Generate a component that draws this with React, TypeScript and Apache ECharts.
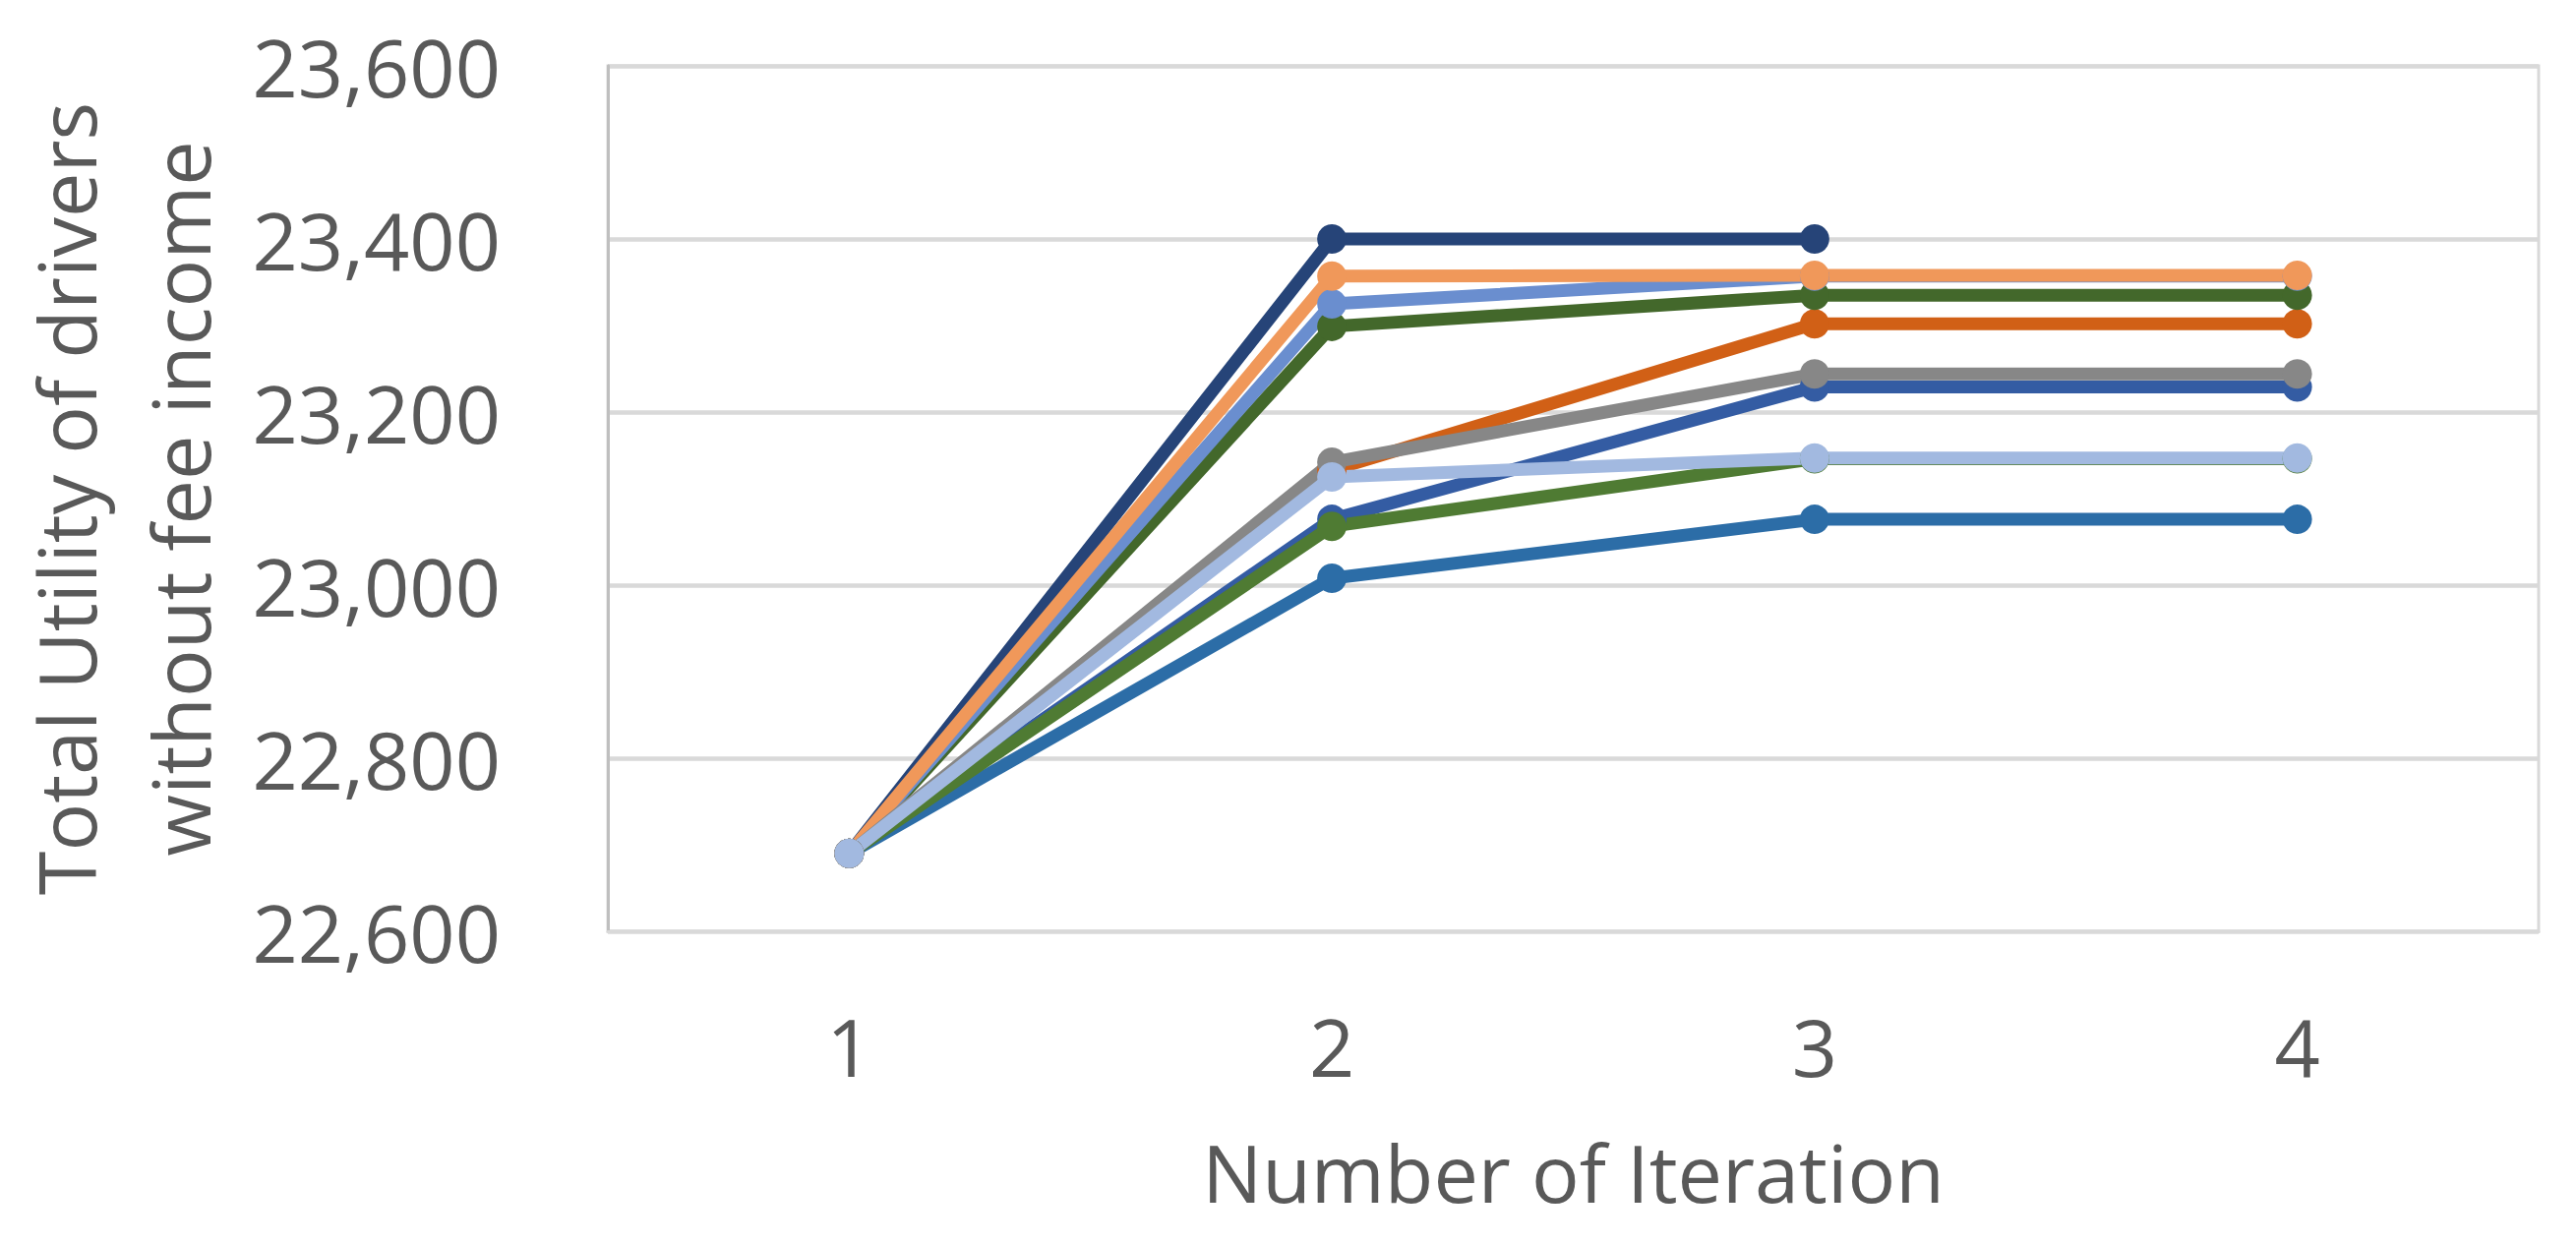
import React, { useEffect, useRef } from "react";
import * as echarts from "echarts";

const iterations = ["1", "2", "3", "4"];
const yMin = 22600;
const yMax = 23600;
const yInterval = 200;

const runNavy = [22690, 23400, 23400, null];
const runSteelBlue = [22690, 23008, 23076, 23076];
const runDarkOrange = [22690, 23133, 23302, 23302];
const runBlue = [22690, 23076, 23229, 23229];
const runGreen = [22690, 23068, 23146, 23146];
const runDarkGreen = [22690, 23299, 23335, 23335];
const runCornflower = [22690, 23325, 23357, 23357];
const runLightOrange = [22690, 23357, 23358, 23358];
const runGray = [22690, 23142, 23244, 23244];
const runLightBlue = [22690, 23125, 23147, 23147];

const runs = [
  { name: "Run 1", data: runNavy, color: "#264478" },
  { name: "Run 2", data: runSteelBlue, color: "#2C6DA7" },
  { name: "Run 3", data: runDarkOrange, color: "#D16016" },
  { name: "Run 4", data: runBlue, color: "#345CA3" },
  { name: "Run 5", data: runGreen, color: "#4F7B33" },
  { name: "Run 6", data: runDarkGreen, color: "#43682B" },
  { name: "Run 7", data: runCornflower, color: "#6A8ECF" },
  { name: "Run 8", data: runLightOrange, color: "#F0985A" },
  { name: "Run 9", data: runGray, color: "#878787" },
  { name: "Run 10", data: runLightBlue, color: "#A2B9E0" },
];

const FONT = "'Open Sans', sans-serif";
const TEXT = "#595959";

export default function App() {
  const ref = useRef<HTMLDivElement>(null);
  useEffect(() => {
    document.body.style.margin = "0";
    const chart = echarts.init(ref.current!, null, { renderer: "svg" });
    chart.setOption({
      animation: false,
      backgroundColor: "#ffffff",
      textStyle: { fontFamily: FONT },
      grid: {
        left: 615,
        right: 38,
        top: 67,
        bottom: 319,
        show: true,
        borderColor: "#D9D9D9",
        borderWidth: 3,
      },
      xAxis: {
        type: "category",
        data: iterations,
        boundaryGap: true,
        axisTick: { show: false },
        axisLine: { show: true, lineStyle: { color: "#D9D9D9", width: 3 } },
        axisLabel: {
          color: TEXT,
          fontSize: 81,
          fontFamily: FONT,
          margin: 76,
        },
        name: "Number of Iteration",
        nameLocation: "middle",
        nameGap: 204,
        nameTextStyle: { color: TEXT, fontSize: 81, fontFamily: FONT },
      },
      yAxis: {
        type: "value",
        min: yMin,
        max: yMax,
        interval: yInterval,
        axisLine: { show: true, lineStyle: { color: "#BFBFBF", width: 3 } },
        axisTick: { show: false },
        splitLine: { show: true, lineStyle: { color: "#D9D9D9", width: 4.5 } },
        axisLabel: {
          color: TEXT,
          fontSize: 81,
          fontFamily: FONT,
          margin: 109,
          formatter: (v: number) => v.toLocaleString("en-US"),
        },
        name: "Total Utility of drivers\nwithout fee income",
        nameLocation: "middle",
        nameGap: 378,
        nameTextStyle: {
          color: TEXT,
          fontSize: 81,
          fontFamily: FONT,
          lineHeight: 116,
        },
      },
      series: runs.map((r) => ({
        name: r.name,
        type: "line",
        data: r.data,
        connectNulls: false,
        symbol: "circle",
        symbolSize: 30,
        lineStyle: { color: r.color, width: 13 },
        itemStyle: { color: r.color },
      })),
    });
    return () => chart.dispose();
  }, []);
  return <div ref={ref} style={{ width: 2619, height: 1266 }} />;
}
